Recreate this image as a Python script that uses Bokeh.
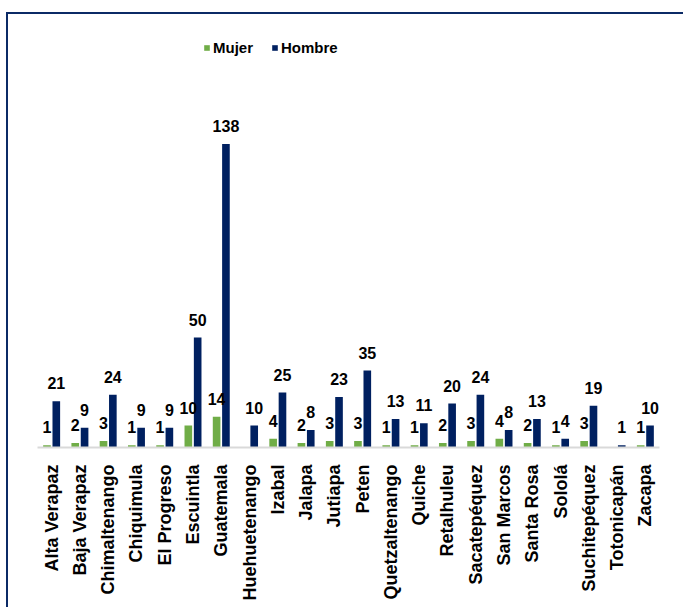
import math
from bokeh.plotting import figure
from bokeh.models import ColumnDataSource, Legend, LegendItem
from bokeh.transform import dodge
from bokeh.core.properties import value
from bokeh.embed import file_html
from bokeh.resources import INLINE

departamentos = ["Alta Verapaz", "Baja Verapaz", "Chimaltenango", "Chiquimula", "El Progreso",
                 "Escuintla", "Guatemala", "Huehuetenango", "Izabal", "Jalapa", "Jutiapa", "Peten",
                 "Quetzaltenango", "Quiche", "Retalhuleu", "Sacatepéquez", "San Marcos", "Santa Rosa",
                 "Sololá", "Suchitepéquez", "Totonicapán", "Zacapa"]
mujer = [1, 2, 3, 1, 1, 10, 14, None, 4, 2, 3, 3, 1, 1, 2, 3, 4, 2, 1, 3, None, 1]
hombre = [21, 9, 24, 9, 9, 50, 138, 10, 25, 8, 23, 35, 13, 11, 20, 24, 8, 13, 4, 19, 1, 10]

GREEN = "#70ad47"
NAVY = "#002060"
FONT = "Liberation Sans"

m_x = [d for d, v in zip(departamentos, mujer) if v is not None]
m_v = [v for v in mujer if v is not None]
src_m = ColumnDataSource(dict(x=m_x, v=m_v, t=[str(v) for v in m_v]))
src_h = ColumnDataSource(dict(x=departamentos, v=hombre, t=[str(v) for v in hombre]))

p = figure(x_range=departamentos, y_range=(0, 190), frame_width=622, frame_height=418,
           min_border_left=29, min_border_right=24, min_border_top=15, min_border_bottom=160,
           output_backend="svg", toolbar_location=None)
p.styles = {"border-left": "2px solid #0b2a66", "border-top": "2px solid #0b2a66",
            "margin-left": "6px", "margin-top": "12px"}
p.outline_line_color = None
p.xgrid.visible = False
p.ygrid.visible = False
p.yaxis.visible = False
p.x_range.range_padding = 0

rm = p.vbar(x=dodge("x", -0.165, range=p.x_range), top="v", width=0.27, source=src_m,
            color=GREEN, line_color=None)
rh = p.vbar(x=dodge("x", 0.165, range=p.x_range), top="v", width=0.27, source=src_h,
            color=NAVY, line_color=None)

for src, off in ((src_m, -0.165), (src_h, 0.165)):
    p.text(x=dodge("x", off, range=p.x_range), y="v", text="t", source=src,
           text_align="center", text_baseline="alphabetic", y_offset=-18,
           text_font=value(FONT), text_font_style="bold", text_font_size="16px",
           text_color="black")

ax = p.xaxis[0]
ax.major_label_orientation = math.pi / 2
ax.major_label_text_font = FONT
ax.major_label_text_font_style = "bold"
ax.major_label_text_font_size = "18px"
ax.major_label_text_color = "black"
ax.major_label_standoff = 11
ax.major_tick_line_color = None
ax.minor_tick_line_color = None
ax.axis_line_color = "#d9d9d9"
ax.axis_line_width = 2

legend = Legend(items=[LegendItem(label="Mujer", renderers=[rm]),
                       LegendItem(label="Hombre", renderers=[rh])],
                location=(166, 391), orientation="horizontal",
                padding=0, margin=0, spacing=18, label_standoff=3,
                glyph_width=7, glyph_height=7, label_height=16,
                label_text_font=FONT, label_text_font_style="bold",
                label_text_font_size="15px", label_text_color="black",
                border_line_color=None, background_fill_alpha=0)
p.add_layout(legend, "center")

open("out.html", "w").write(file_html(p, INLINE))
